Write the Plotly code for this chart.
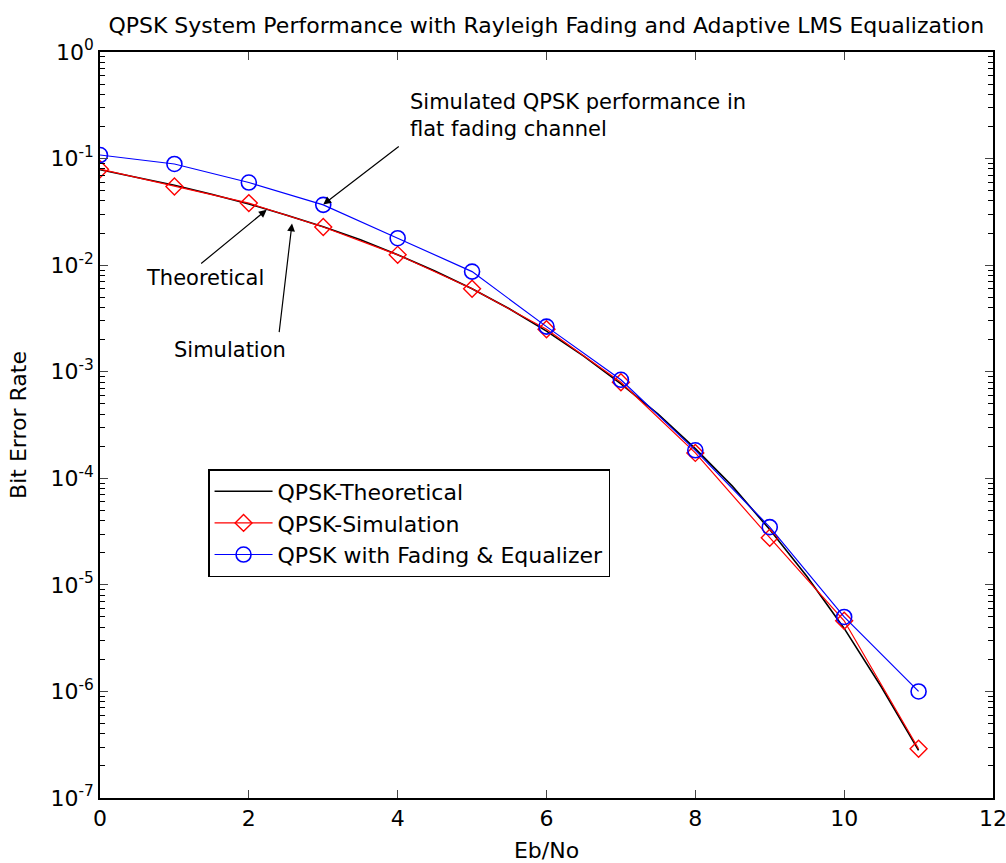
import plotly.graph_objects as go

# Eb/No grid (dB)
ebno = [0, 1, 2, 3, 4, 5, 6, 7, 8, 9, 10, 11]
ebno_fine = [0, 0.5, 1, 1.5, 2, 2.5, 3, 3.5, 4, 4.5, 5, 5.5,
             6, 6.5, 7, 7.5, 8, 8.5, 9, 9.5, 10, 10.5, 11]

# Bit error rates
ber_theory = [0.0786, 0.0667, 0.0563, 0.0462, 0.0375, 0.0296, 0.0229, 0.0173,
              0.0125, 0.0088, 0.0060, 0.0039, 0.0024, 0.0014, 7.7e-4, 4.0e-4,
              1.9e-4, 8.4e-5, 3.3e-5, 1.2e-5, 3.9e-6, 1.1e-6, 2.8e-7]
ber_sim = [0.0795, 0.0547, 0.0382, 0.0228, 0.0125, 0.0060, 0.0025, 7.96e-4,
           1.73e-4, 2.77e-5, 4.6e-6, 2.9e-7]
ber_fading_eq = [0.108, 0.089, 0.0596, 0.0368, 0.0179, 0.0087, 0.00265, 8.4e-4,
                 1.83e-4, 3.48e-5, 5.0e-6, 1.0e-6]

decades = [-7, -6, -5, -4, -3, -2, -1, 0]
x_ticks = [0, 2, 4, 6, 8, 10, 12]

FONT = "DejaVu Sans, Liberation Sans, Arial, sans-serif"
FS = 22
FS_NOTE = 21

fig = go.Figure()
fig.add_trace(go.Scatter(
    x=ebno_fine, y=ber_theory, mode="lines", name="QPSK-Theoretical",
    line=dict(color="black", width=1.6)))
fig.add_trace(go.Scatter(
    x=ebno, y=ber_sim, mode="lines+markers", name="QPSK-Simulation",
    line=dict(color="red", width=1.2),
    marker=dict(symbol="diamond-open", size=13, color="red",
                line=dict(width=1.4, color="red"))))
fig.add_trace(go.Scatter(
    x=ebno, y=ber_fading_eq, mode="lines+markers",
    name="QPSK with Fading & Equalizer",
    line=dict(color="blue", width=1.2),
    marker=dict(symbol="circle-open", size=15, color="blue",
                line=dict(width=1.6, color="blue"))))

minor_vals = [k * 10.0 ** d for d in decades[:-1] for k in range(2, 10)]

fig.update_xaxes(
    range=[0, 12], tickvals=x_ticks, ticks="inside", ticklen=8, tickwidth=1.2,
    mirror="allticks", showline=True, linecolor="black", linewidth=1.5,
    showgrid=False, zeroline=False, automargin=False, ticklabeloverflow="allow",
    tickfont=dict(size=FS, color="black", family=FONT),
    title=dict(text="Eb/No", font=dict(size=FS, color="black", family=FONT),
               standoff=12))
fig.update_yaxes(
    type="log", range=[-7, 0],
    tickvals=[10.0 ** d for d in decades],
    ticktext=["10<sup>%d</sup>" % d for d in decades],
    ticks="inside", ticklen=8, tickwidth=1.2,
    minor=dict(tickvals=minor_vals, ticks="inside", ticklen=5, tickwidth=1,
               tickcolor="black", showgrid=False),
    mirror="allticks", showline=True, linecolor="black", linewidth=1.5,
    showgrid=False, zeroline=False, automargin=False,
    tickfont=dict(size=FS, color="black", family=FONT),
    title=dict(text="Bit Error Rate", font=dict(size=FS, color="black", family=FONT),
               standoff=18))

arrow_style = dict(showarrow=True, arrowhead=2, arrowsize=1.3, arrowwidth=1.2,
                   arrowcolor="black", xref="x", yref="y", text="")
text_style = dict(showarrow=False, xref="x", yref="y",
                  font=dict(size=FS_NOTE, color="black", family=FONT))

# arrow heads are given as (Eb/No, log10 BER)
fig.add_annotation(x=3.0, y=-1.43, ax=77, ay=-59, **arrow_style)
fig.add_annotation(x=2.24, y=-1.48, ax=-67, ay=55, **arrow_style)
fig.add_annotation(x=2.58, y=-1.61, ax=-13, ay=110, **arrow_style)

fig.add_annotation(x=4.14, y=-0.596, xanchor="left", align="left",
                   text="Simulated QPSK performance in<br>flat fading channel",
                   **text_style)
fig.add_annotation(x=1.41, y=-2.12, text="Theoretical", **text_style)
fig.add_annotation(x=1.75, y=-2.795, text="Simulation", **text_style)

fig.update_layout(
    width=1006, height=863,
    margin=dict(l=100, r=13, t=52, b=65, autoexpand=False),
    paper_bgcolor="white", plot_bgcolor="white",
    font=dict(family=FONT, size=FS, color="black"),
    title=dict(text="QPSK System Performance with Rayleigh Fading and Adaptive LMS Equalization",
               x=0.543, xanchor="center", y=0.971, yanchor="middle", yref="container",
               font=dict(size=FS, color="black", family=FONT)),
    showlegend=True,
    legend=dict(x=0.121, y=0.441, xanchor="left", yanchor="top",
                bgcolor="white", bordercolor="black", borderwidth=1.5,
                font=dict(size=FS, color="black", family=FONT),
                itemwidth=58, tracegroupgap=0),
)

fig.write_html("out.html")
